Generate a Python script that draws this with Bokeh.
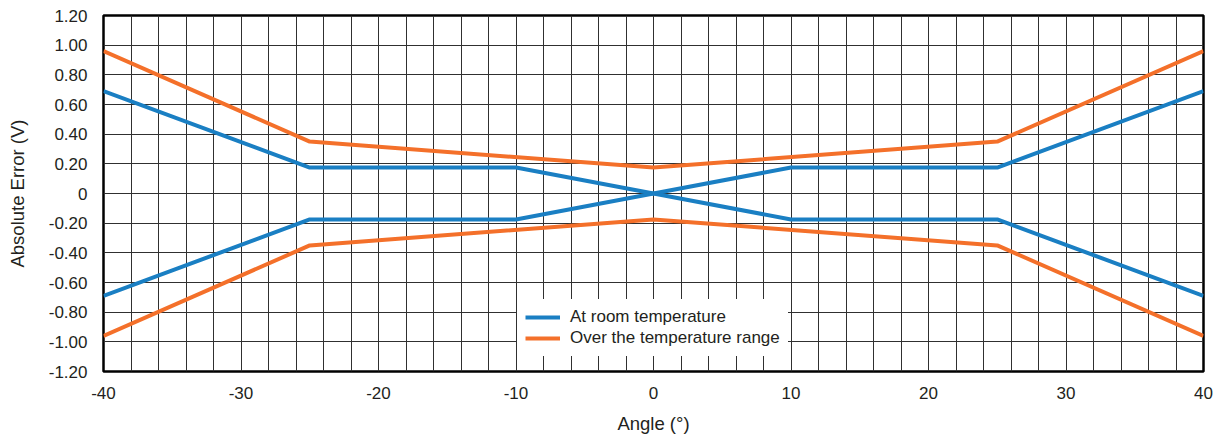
from bokeh.plotting import figure
from bokeh.models import FixedTicker, Legend, LegendItem, Range1d
from bokeh.embed import file_html
from bokeh.resources import INLINE

# ---- data ----
angle_room = [-40, -25, -10, 0, 10, 25, 40]
room_falling = [0.69, 0.175, 0.175, 0.0, -0.175, -0.175, -0.69]
room_rising = [-0.69, -0.175, -0.175, 0.0, 0.175, 0.175, 0.69]

angle_range = [-40, -25, 0, 25, 40]
range_upper = [0.96, 0.35, 0.175, 0.35, 0.96]
range_lower = [-0.96, -0.35, -0.175, -0.35, -0.96]

x_ticks = [-40, -30, -20, -10, 0, 10, 20, 30, 40]
x_tick_labels = ["-40", "-30", "-20", "-10", "0", "10", "20", "30", "40"]
x_grid = list(range(-40, 41, 2))
y_ticks = [-1.2, -1.0, -0.8, -0.6, -0.4, -0.2, 0.0, 0.2, 0.4, 0.6, 0.8, 1.0, 1.2]
y_tick_labels = ["-1.20", "-1.00", "-0.80", "-0.60", "-0.40", "-0.20", "0",
                 "0.20", "0.40", "0.60", "0.80", "1.00", "1.20"]

series_names = ["At room temperature", "Over the temperature range"]
BLUE = "#1a7fc3"
ORANGE = "#f4702a"
TXT = "#231f20"
FONT = "Liberation Sans"

p = figure(width=1213, height=436, output_backend="svg", toolbar_location=None,
           x_range=Range1d(-40, 40), y_range=Range1d(-1.2, 1.2),
           min_border_left=103, min_border_right=10, min_border_top=15,
           min_border_bottom=65)

p.outline_line_color = "black"
p.outline_line_width = 2.5
p.background_fill_color = "white"
p.border_fill_color = "white"

# grid
p.xgrid.ticker = FixedTicker(ticks=x_grid)
p.ygrid.ticker = FixedTicker(ticks=y_ticks)
for g in (p.xgrid, p.ygrid):
    g.grid_line_color = "#303030"
    g.grid_line_width = 1
    g.grid_line_alpha = 1.0

# axes
p.xaxis.ticker = FixedTicker(ticks=x_ticks)
p.xaxis.major_label_overrides = {t: l for t, l in zip(x_ticks, x_tick_labels)}
p.yaxis.ticker = FixedTicker(ticks=y_ticks)
p.yaxis.major_label_overrides = {t: l for t, l in zip(y_ticks, y_tick_labels)}
for ax in (p.xaxis, p.yaxis):
    ax.axis_line_color = None
    ax.major_tick_line_color = None
    ax.minor_tick_line_color = None
    ax.major_tick_in = 0
    ax.major_tick_out = 0
    ax.major_label_text_font = FONT
    ax.major_label_text_font_size = "17px"
    ax.major_label_text_color = TXT
    ax.axis_label_text_font = FONT
    ax.axis_label_text_font_size = "18.5px"
    ax.axis_label_text_font_style = "normal"
    ax.axis_label_text_color = TXT

p.xaxis.axis_label = "Angle (°)"
p.yaxis.axis_label = "Absolute Error (V)"
p.xaxis.major_label_standoff = 15
p.xaxis.axis_label_standoff = 11
p.yaxis.major_label_standoff = 16
p.yaxis.axis_label_standoff = 18

# data lines
r_room1 = p.line(angle_room, room_falling, line_color=BLUE, line_width=4)
r_room2 = p.line(angle_room, room_rising, line_color=BLUE, line_width=4)
r_rng1 = p.line(angle_range, range_upper, line_color=ORANGE, line_width=4)
r_rng2 = p.line(angle_range, range_lower, line_color=ORANGE, line_width=4)

legend = Legend(items=[LegendItem(label=series_names[0], renderers=[r_room1]),
                       LegendItem(label=series_names[1], renderers=[r_rng1])],
                location=(414, 15), margin=0, padding=8, spacing=1,
                label_height=18, glyph_height=18, glyph_width=35,
                label_standoff=10,
                label_text_font=FONT, label_text_font_size="17px",
                label_text_color=TXT,
                border_line_alpha=0, background_fill_color="white",
                background_fill_alpha=1.0)
p.add_layout(legend, "center")

open("out.html", "w").write(file_html(p, INLINE))
